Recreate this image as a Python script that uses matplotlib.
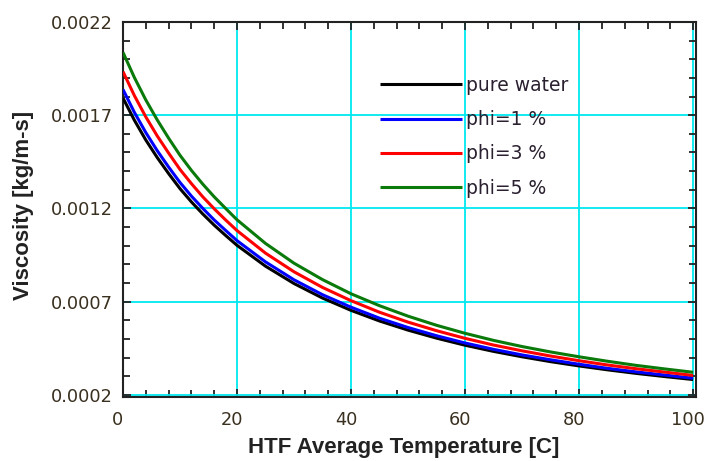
import matplotlib
matplotlib.use("Agg")
import matplotlib.pyplot as plt
from matplotlib.ticker import MultipleLocator
from matplotlib.transforms import ScaledTranslation

temps = [0, 2, 4, 6, 8, 10, 12, 14, 16, 18, 20, 25, 30, 35, 40, 45, 50, 55, 60, 65, 70, 75, 80, 85, 90, 95, 100]
# viscosity values in mPa.s (converted to kg/m-s when plotted)
pure_water = [1.792, 1.673, 1.567, 1.473, 1.387, 1.306, 1.235, 1.170, 1.110, 1.055, 1.002,
              0.890, 0.797, 0.719, 0.653, 0.596, 0.547, 0.504, 0.466, 0.433, 0.404, 0.378,
              0.355, 0.334, 0.315, 0.298, 0.282]
phi1 = [1.838, 1.715, 1.607, 1.510, 1.422, 1.339, 1.266, 1.200, 1.138, 1.082, 1.027,
        0.913, 0.817, 0.737, 0.670, 0.611, 0.561, 0.517, 0.478, 0.444, 0.414, 0.388,
        0.364, 0.342, 0.323, 0.306, 0.289]
phi3 = [1.934, 1.805, 1.691, 1.589, 1.497, 1.409, 1.333, 1.262, 1.198, 1.138, 1.081,
        0.960, 0.860, 0.776, 0.705, 0.643, 0.590, 0.544, 0.503, 0.467, 0.436, 0.408,
        0.383, 0.360, 0.340, 0.322, 0.304]
phi5 = [2.037, 1.902, 1.782, 1.675, 1.577, 1.485, 1.404, 1.330, 1.262, 1.200, 1.139,
        1.012, 0.906, 0.818, 0.742, 0.678, 0.622, 0.573, 0.530, 0.492, 0.459, 0.430,
        0.404, 0.380, 0.358, 0.339, 0.321]
labels = ["pure water", "phi=1 %", "phi=3 %", "phi=5 %"]
colors = ["black", "#0000ff", "#ff0000", "#0a7a0a"]
yticks = [0.0002, 0.0007, 0.0012, 0.0017, 0.0022]
xticks = [0, 20, 40, 60, 80, 100]

fig = plt.figure(figsize=(7.04, 4.61), dpi=100)
ax = fig.add_axes([0.1747, 0.1395, 0.8139, 0.8128])

for series, lab, col in zip([pure_water, phi1, phi3, phi5], labels, colors):
    ax.plot(temps, [v * 1e-3 for v in series], color=col, lw=2.2, label=lab, zorder=3,
            solid_capstyle="butt")

ax.set_xlim(0, 100.5)
ax.set_ylim(0.00019, 0.0022)
ax.set_xticks(xticks)
ax.set_yticks(yticks)
ax.set_yticklabels([f"{t:.4f}" for t in yticks])
ax.xaxis.set_minor_locator(MultipleLocator(4))
ax.yaxis.set_minor_locator(MultipleLocator(0.0001))
ax.tick_params(which="both", direction="in", top=True, right=True, width=1.3, color="#222")
ax.tick_params(which="major", length=6, labelsize=12.8, labelcolor="#3a3020")
ax.tick_params(axis="y", which="major", pad=7.5)
ax.tick_params(axis="x", which="major", pad=10)
ax.tick_params(which="minor", length=5)
for lab in ax.get_xticklabels():
    lab.set_transform(lab.get_transform() + ScaledTranslation(-5 / 100, 0, fig.dpi_scale_trans))
ax.grid(True, which="major", color="#00e8f0", lw=1.3, zorder=1)
for s in ax.spines.values():
    s.set_linewidth(1.5)
    s.set_color("#222")

ax.set_xlabel("HTF Average Temperature [C]", fontsize=16, fontweight="bold",
              family="Liberation Sans", color="#222")
ax.set_ylabel("Viscosity [kg/m-s]", fontsize=16, fontweight="bold",
              family="Liberation Sans", color="#222")
ax.xaxis.set_label_coords(0.4895, -0.1076)
ax.yaxis.set_label_coords(-0.155, 0.5116)

leg = ax.legend(loc="upper left", bbox_to_anchor=(0.4485, 0.856), frameon=False,
                fontsize=13.5, handlelength=4.37, handletextpad=0.2, labelspacing=0.81,
                borderaxespad=0, borderpad=0)
for t in leg.get_texts():
    t.set_color("#2a2030")

fig.savefig("out.png", dpi=100)
